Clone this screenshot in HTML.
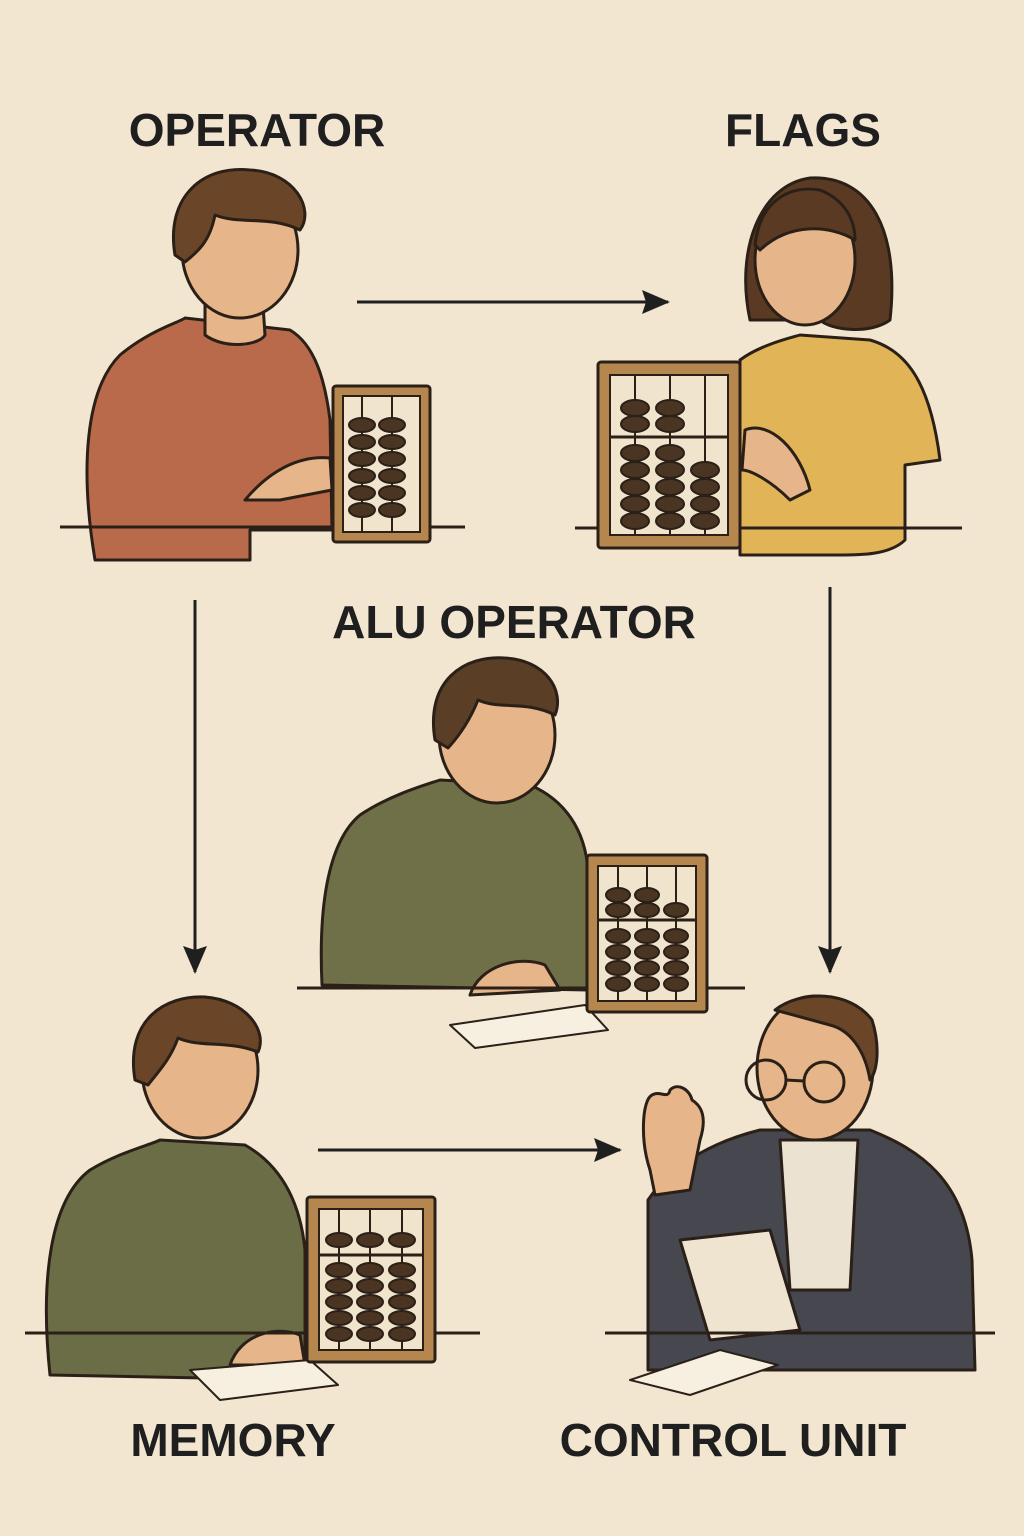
<!DOCTYPE html>
<html><head><meta charset="utf-8"><style>
html,body{margin:0;padding:0;background:#f3e6d1;}
svg{display:block}
text{font-family:"Liberation Sans",sans-serif;font-weight:bold;fill:#1f1f1f;font-size:46px;text-anchor:middle}
</style></head><body>
<svg width="1024" height="1536" viewBox="0 0 1024 1536" xmlns="http://www.w3.org/2000/svg">
<defs>
<marker id="ah" markerWidth="12" markerHeight="12" refX="10" refY="6" orient="auto" markerUnits="userSpaceOnUse" viewBox="0 0 12 12"><path d="M0,0 L12,6 L0,12 Z" fill="#1f1f1f"/></marker>
<marker id="ah2" markerWidth="28" markerHeight="24" refX="26" refY="12" orient="auto" markerUnits="userSpaceOnUse" viewBox="0 0 28 24"><path d="M0,0 L28,12 L0,24 L4,12 Z" fill="#1f1f1f"/></marker>
</defs>
<rect width="1024" height="1536" fill="#f3e6d1"/>
<text x="257" y="146">OPERATOR</text>
<text x="803" y="146">FLAGS</text>
<text x="514" y="638">ALU OPERATOR</text>
<text x="233" y="1456">MEMORY</text>
<text x="733" y="1456">CONTROL UNIT</text>

<g stroke="#1f1f1f" stroke-width="3" fill="none">
<line x1="357" y1="302" x2="668" y2="302" marker-end="url(#ah2)"/>
<line x1="195" y1="600" x2="195" y2="972" marker-end="url(#ah2)"/>
<line x1="830" y1="587" x2="830" y2="972" marker-end="url(#ah2)"/>
<line x1="318" y1="1150" x2="620" y2="1150" marker-end="url(#ah2)"/>
</g>

<g stroke="#2a2018" stroke-width="3" stroke-linejoin="round">
<!-- Person 1 -->
<path d="M95,560 C80,470 85,390 120,355 C150,330 180,322 185,318 L290,330 C315,345 325,380 330,420 L332,530 L250,530 L250,560 Z" fill="#b86a4a"/>
<path d="M205,290 L205,335 C225,350 260,345 265,335 L262,290 Z" fill="#e7b58a"/>
<ellipse cx="240" cy="250" rx="58" ry="68" fill="#e7b58a"/>
<path d="M175,255 C165,195 205,165 250,170 C295,172 315,210 300,230 C270,215 240,225 215,215 C210,240 200,250 185,262 Z" fill="#6b4527"/>
<path d="M245,500 C270,470 300,455 330,458 L332,490 L280,500 Z" fill="#e7b58a"/>
<line x1="60" y1="527" x2="465" y2="527"/>
<!-- Person 2 -->
<path d="M740,555 L740,360 C760,345 790,338 800,335 L870,340 C905,350 930,380 940,460 L905,465 L905,540 C890,555 860,555 840,555 Z" fill="#e2b458"/>
<path d="M750,320 C735,250 760,185 810,178 C870,175 900,230 890,320 C870,335 830,330 820,320 Z" fill="#5a3a22"/>
<ellipse cx="805" cy="260" rx="50" ry="65" fill="#e7b58a"/>
<path d="M755,245 C760,200 790,185 820,190 C845,200 855,220 855,240 C830,225 790,222 760,250 Z" fill="#5a3a22"/>
<path d="M745,430 C770,420 800,450 810,490 L790,500 C770,480 750,470 742,470 Z" fill="#e7b58a"/>
<line x1="575" y1="528" x2="962" y2="528"/>
<!-- Person 3 -->
<path d="M322,985 C318,900 330,840 360,815 C390,795 425,785 440,780 L530,785 C565,800 585,830 588,870 L588,990 Z" fill="#6f7048"/>
<ellipse cx="497" cy="735" rx="58" ry="68" fill="#e7b58a"/>
<path d="M435,740 C425,680 465,655 505,658 C545,660 565,690 555,715 C525,700 500,710 478,700 C470,720 460,735 448,748 Z" fill="#5a3e26"/>
<path d="M470,995 C480,965 520,955 545,965 L560,990 Z" fill="#e7b58a"/>
<path d="M450,1025 L585,1005 L608,1030 L475,1048 Z" fill="#f7efdf" stroke-width="2"/>
<line x1="297" y1="988" x2="745" y2="988"/>
<!-- Person 4 -->
<path d="M50,1375 C40,1280 50,1200 90,1170 C120,1152 150,1145 160,1140 L245,1145 C280,1165 300,1200 305,1250 L305,1380 Z" fill="#6a6d45"/>
<ellipse cx="200" cy="1070" rx="58" ry="68" fill="#e7b58a"/>
<path d="M135,1080 C125,1020 165,995 205,997 C245,1000 268,1030 258,1052 C228,1040 200,1048 178,1038 C170,1060 158,1072 148,1085 Z" fill="#6b4527"/>
<path d="M230,1365 C240,1335 275,1325 300,1335 L305,1365 Z" fill="#e7b58a"/>
<path d="M190,1370 L310,1360 L338,1385 L220,1400 Z" fill="#f7efdf" stroke-width="2"/>
<line x1="25" y1="1333" x2="480" y2="1333"/>
<!-- Person 5 -->
<path d="M648,1370 L648,1200 C675,1160 720,1140 760,1130 L870,1130 C920,1150 965,1180 972,1260 L975,1370 Z" fill="#47484f"/>
<path d="M780,1140 L790,1290 L850,1290 L858,1140 Z" fill="#ece2d2"/>
<ellipse cx="815" cy="1068" rx="58" ry="72" fill="#e7b58a"/>
<path d="M775,1010 C800,990 850,990 872,1020 C880,1045 878,1070 870,1080 C865,1050 850,1030 830,1025 Z" fill="#6b4527"/>
<g fill="none" stroke-width="3"><circle cx="766" cy="1080" r="20"/><circle cx="824" cy="1082" r="20"/><line x1="786" y1="1080" x2="804" y2="1081"/></g>
<path d="M650,1170 C640,1140 642,1100 652,1095 C660,1090 668,1100 670,1090 C678,1082 690,1090 692,1100 C700,1105 708,1115 700,1140 L690,1190 L655,1195 Z" fill="#e7b58a"/>
<path d="M680,1240 L770,1230 L800,1330 L710,1340 Z" fill="#efe4cf"/>
<path d="M630,1380 L720,1350 L778,1365 L690,1395 Z" fill="#f7efdf" stroke-width="2"/>
<line x1="605" y1="1333" x2="995" y2="1333"/>
</g>

<!-- Abacuses -->
<g id="abacus" stroke="#2a2018" stroke-width="3">
<rect x="333" y="386" width="97" height="156" rx="3" fill="#b5874f"/>
<rect x="343" y="396" width="77" height="136" fill="#f1e4cc" stroke-width="2"/>
</g>
<rect x="598" y="362" width="142" height="186" rx="3" fill="#b5874f" stroke="#2a2018" stroke-width="3"/>
<rect x="610" y="375" width="118" height="160" fill="#f1e4cc" stroke="#2a2018" stroke-width="2"/>
<rect x="587" y="855" width="120" height="157" rx="3" fill="#b5874f" stroke="#2a2018" stroke-width="3"/>
<rect x="598" y="866" width="98" height="135" fill="#f1e4cc" stroke="#2a2018" stroke-width="2"/>
<rect x="307" y="1197" width="128" height="165" rx="3" fill="#b5874f" stroke="#2a2018" stroke-width="3"/>
<rect x="319" y="1209" width="104" height="141" fill="#f1e4cc" stroke="#2a2018" stroke-width="2"/>

<g stroke="#2a2018" stroke-width="2" fill="#4a3422">
<!-- abacus 1 beads -->
<line x1="362" y1="396" x2="362" y2="532"/><line x1="392" y1="396" x2="392" y2="532"/>
<g>
<ellipse cx="362" cy="425" rx="13" ry="7"/><ellipse cx="392" cy="425" rx="13" ry="7"/>
<ellipse cx="362" cy="442" rx="13" ry="7"/><ellipse cx="392" cy="442" rx="13" ry="7"/>
<ellipse cx="362" cy="459" rx="13" ry="7"/><ellipse cx="392" cy="459" rx="13" ry="7"/>
<ellipse cx="362" cy="476" rx="13" ry="7"/><ellipse cx="392" cy="476" rx="13" ry="7"/>
<ellipse cx="362" cy="493" rx="13" ry="7"/><ellipse cx="392" cy="493" rx="13" ry="7"/>
<ellipse cx="362" cy="510" rx="13" ry="7"/><ellipse cx="392" cy="510" rx="13" ry="7"/>
</g>
<!-- abacus 2 -->
<line x1="635" y1="375" x2="635" y2="535"/><line x1="670" y1="375" x2="670" y2="535"/><line x1="705" y1="375" x2="705" y2="535"/>
<line x1="610" y1="437" x2="728" y2="437" stroke-width="3"/>
<ellipse cx="635" cy="408" rx="14" ry="8"/><ellipse cx="670" cy="408" rx="14" ry="8"/>
<ellipse cx="635" cy="424" rx="14" ry="8"/><ellipse cx="670" cy="424" rx="14" ry="8"/>
<ellipse cx="635" cy="453" rx="14" ry="8"/><ellipse cx="670" cy="453" rx="14" ry="8"/>
<ellipse cx="635" cy="470" rx="14" ry="8"/><ellipse cx="670" cy="470" rx="14" ry="8"/><ellipse cx="705" cy="470" rx="14" ry="8"/>
<ellipse cx="635" cy="487" rx="14" ry="8"/><ellipse cx="670" cy="487" rx="14" ry="8"/><ellipse cx="705" cy="487" rx="14" ry="8"/>
<ellipse cx="635" cy="504" rx="14" ry="8"/><ellipse cx="670" cy="504" rx="14" ry="8"/><ellipse cx="705" cy="504" rx="14" ry="8"/>
<ellipse cx="635" cy="521" rx="14" ry="8"/><ellipse cx="670" cy="521" rx="14" ry="8"/><ellipse cx="705" cy="521" rx="14" ry="8"/>
<!-- abacus 3 -->
<line x1="618" y1="866" x2="618" y2="1001"/><line x1="647" y1="866" x2="647" y2="1001"/><line x1="676" y1="866" x2="676" y2="1001"/>
<line x1="598" y1="920" x2="696" y2="920" stroke-width="3"/>
<ellipse cx="618" cy="895" rx="12" ry="7"/><ellipse cx="647" cy="895" rx="12" ry="7"/>
<ellipse cx="618" cy="910" rx="12" ry="7"/><ellipse cx="647" cy="910" rx="12" ry="7"/><ellipse cx="676" cy="910" rx="12" ry="7"/>
<ellipse cx="618" cy="936" rx="12" ry="7"/><ellipse cx="647" cy="936" rx="12" ry="7"/><ellipse cx="676" cy="936" rx="12" ry="7"/>
<ellipse cx="618" cy="952" rx="12" ry="7"/><ellipse cx="647" cy="952" rx="12" ry="7"/><ellipse cx="676" cy="952" rx="12" ry="7"/>
<ellipse cx="618" cy="968" rx="12" ry="7"/><ellipse cx="647" cy="968" rx="12" ry="7"/><ellipse cx="676" cy="968" rx="12" ry="7"/>
<ellipse cx="618" cy="984" rx="12" ry="7"/><ellipse cx="647" cy="984" rx="12" ry="7"/><ellipse cx="676" cy="984" rx="12" ry="7"/>
<!-- abacus 4 -->
<line x1="339" y1="1209" x2="339" y2="1350"/><line x1="370" y1="1209" x2="370" y2="1350"/><line x1="402" y1="1209" x2="402" y2="1350"/>
<line x1="319" y1="1255" x2="423" y2="1255" stroke-width="3"/>
<ellipse cx="339" cy="1240" rx="13" ry="7"/><ellipse cx="370" cy="1240" rx="13" ry="7"/><ellipse cx="402" cy="1240" rx="13" ry="7"/>
<ellipse cx="339" cy="1270" rx="13" ry="7"/><ellipse cx="370" cy="1270" rx="13" ry="7"/><ellipse cx="402" cy="1270" rx="13" ry="7"/>
<ellipse cx="339" cy="1286" rx="13" ry="7"/><ellipse cx="370" cy="1286" rx="13" ry="7"/><ellipse cx="402" cy="1286" rx="13" ry="7"/>
<ellipse cx="339" cy="1302" rx="13" ry="7"/><ellipse cx="370" cy="1302" rx="13" ry="7"/><ellipse cx="402" cy="1302" rx="13" ry="7"/>
<ellipse cx="339" cy="1318" rx="13" ry="7"/><ellipse cx="370" cy="1318" rx="13" ry="7"/><ellipse cx="402" cy="1318" rx="13" ry="7"/>
<ellipse cx="339" cy="1334" rx="13" ry="7"/><ellipse cx="370" cy="1334" rx="13" ry="7"/><ellipse cx="402" cy="1334" rx="13" ry="7"/>
</g>
</svg>
</body></html>
